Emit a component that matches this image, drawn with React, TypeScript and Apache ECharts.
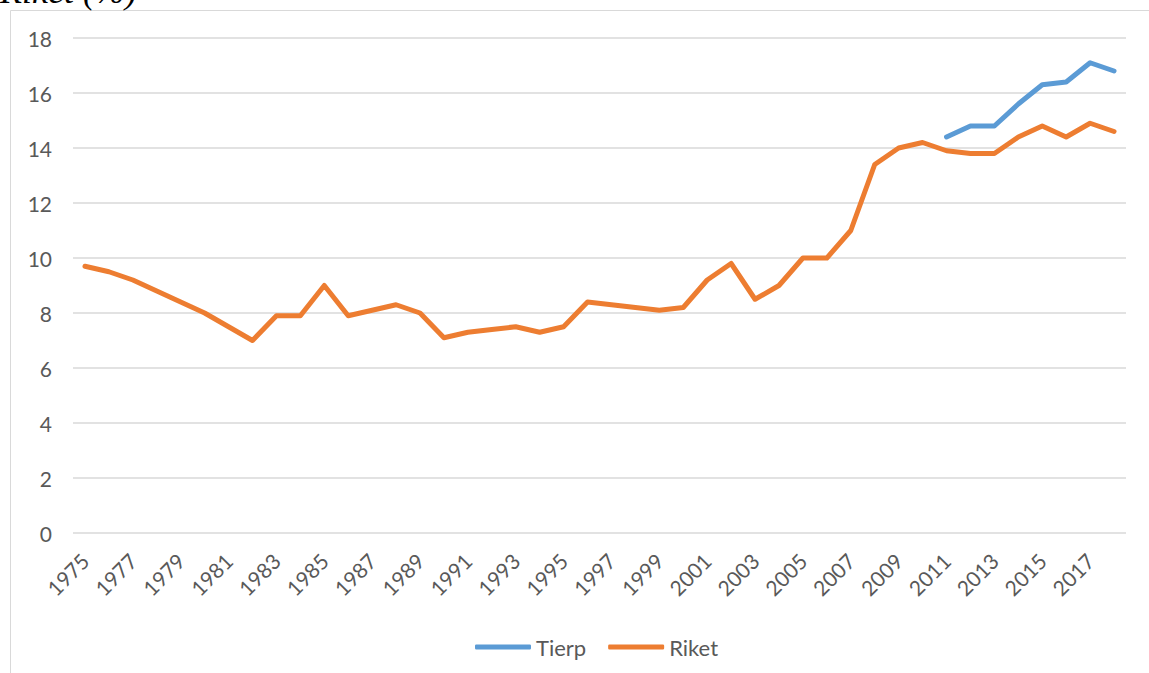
import React, { useEffect, useRef } from "react";
import * as echarts from "echarts";

const years: string[] = [];
for (let y = 1975; y <= 2018; y++) years.push(String(y));

const riket: number[] = [
  9.7, 9.5, 9.2, 8.8, 8.4, 8.0, 7.5, 7.0, 7.9, 7.9,
  9.0, 7.9, 8.1, 8.3, 8.0, 7.1, 7.3, 7.4, 7.5, 7.3,
  7.5, 8.4, 8.3, 8.2, 8.1, 8.2, 9.2, 9.8, 8.5, 9.0,
  10.0, 10.0, 11.0, 13.4, 14.0, 14.2, 13.9, 13.8, 13.8, 14.4,
  14.8, 14.4, 14.9, 14.6,
];

const tierpStart = "2011";
const tierpValues: number[] = [14.4, 14.8, 14.8, 15.6, 16.3, 16.4, 17.1, 16.8];

const tierp: (number | null)[] = years.map((y) => {
  const idx = years.indexOf(y) - years.indexOf(tierpStart);
  return idx >= 0 ? tierpValues[idx] : null;
});

const yTicks = { min: 0, max: 18, interval: 2 };

export default function App() {
  const ref = useRef<HTMLDivElement>(null);
  useEffect(() => {
    if (!ref.current) return;
    const chart = echarts.init(ref.current, undefined, { renderer: "svg" });
    const font = "Lato, 'Noto Sans', sans-serif";
    chart.setOption({
      animation: false,
      backgroundColor: "#ffffff",
      graphic: [
        {
          type: "rect",
          shape: { x: 10.5, y: 10.5, width: 1200, height: 700 },
          style: { fill: "none", stroke: "#d9d9d9", lineWidth: 1 },
          silent: true,
        },
        {
          type: "text",
          x: 0,
          y: 9,
          style: {
            text: "Riket (%)",
            fontStyle: "italic",
            fontSize: 36,
            fontFamily: "'Liberation Serif', 'DejaVu Serif', serif",
            fill: "#000000",
            verticalAlign: "bottom",
            align: "left",
          },
        },
      ],
      legend: {
        data: ["Tierp", "Riket"],
        left: 470,
        top: 631,
        icon: "roundRect",
        itemWidth: 56,
        itemHeight: 5,
        itemGap: 22,
        textStyle: { color: "#595959", fontSize: 22, fontFamily: font },
      },
      grid: { left: 73, right: 23, top: 38, bottom: 140, containLabel: false },
      xAxis: {
        type: "category",
        data: years,
        boundaryGap: true,
        axisLine: { show: false },
        axisTick: { show: false },
        axisLabel: {
          interval: 1,
          rotate: 45,
          margin: 24,
          color: "#595959",
          fontSize: 21,
          fontFamily: font,
        },
      },
      yAxis: {
        type: "value",
        min: yTicks.min,
        max: yTicks.max,
        interval: yTicks.interval,
        axisLine: { show: false },
        axisTick: { show: false },
        splitLine: { lineStyle: { color: "#d9d9d9", width: 1.5 } },
        axisLabel: { color: "#595959", fontSize: 21, fontFamily: font, margin: 21 },
      },
      series: [
        {
          name: "Tierp",
          type: "line",
          data: tierp,
          showSymbol: false,
          symbol: "none",
          lineStyle: { color: "#5B9BD5", width: 5, cap: "round", join: "round" },
          itemStyle: { color: "#5B9BD5" },
        },
        {
          name: "Riket",
          type: "line",
          data: riket,
          showSymbol: false,
          symbol: "none",
          lineStyle: { color: "#ED7D31", width: 5, cap: "round", join: "round" },
          itemStyle: { color: "#ED7D31" },
        },
      ],
    });
    return () => chart.dispose();
  }, []);
  return (
    <div
      ref={ref}
      style={{ position: "fixed", left: 0, top: 0, width: 1149, height: 673 }}
    />
  );
}
